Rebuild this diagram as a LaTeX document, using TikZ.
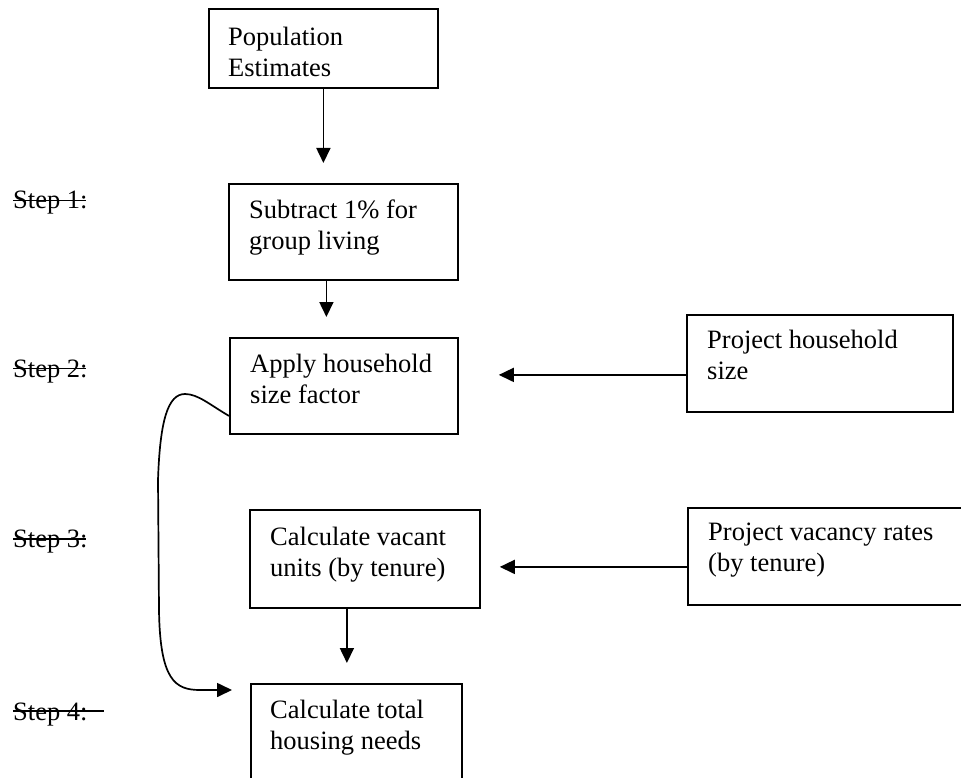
\documentclass[tikz,border=0pt]{standalone}
\usepackage{fontspec}
\setmainfont{Liberation Serif}
\usetikzlibrary{arrows.meta,calc}
\begin{document}
\begin{tikzpicture}[x=1pt,y=-1pt,
  box/.style={draw=black,line width=1.8pt,rectangle,inner sep=0pt,anchor=north west},
  txt/.style={anchor=north west,inner sep=0pt,align=left,font=\fontsize{26.5}{31}\selectfont},
  steplbl/.style={anchor=base west,inner sep=0pt,font=\fontsize{26.5}{31}\selectfont},
  arr/.style={line width=1.7pt,-{Triangle[length=15pt,width=14pt]}},
  strike/.style={line width=1.4pt}]
\useasboundingbox (0,0) rectangle (961,778);
\clip (0,0) rectangle (961,778);
% boxes
\node[box,minimum width=229pt,minimum height=79pt] (A) at (208,8) {};
\node[box,minimum width=229pt,minimum height=96pt] (B) at (228,183) {};
\node[box,minimum width=228pt,minimum height=96pt] (C) at (229,337) {};
\node[box,minimum width=230pt,minimum height=98pt] (D) at (249,509) {};
\node[box,minimum width=211pt,minimum height=110pt] (E) at (250,683) {};
\node[box,minimum width=266pt,minimum height=97pt] (F) at (686,314) {};
\node[box,minimum width=300pt,minimum height=97pt] (G) at (687,507) {};
% texts
\node[txt] (tA) at (228,24) {\strut Population\\Estimates};
\node[txt] (tB) at (249,197) {\strut Subtract 1\% for\\group living};
\node[txt] (tC) at (250,351) {\strut Apply household\\size factor};
\node[txt] (tD) at (270,524) {\strut Calculate vacant\\units (by tenure)};
\node[txt] (tE) at (270,697) {\strut Calculate total\\housing needs};
\node[txt] (tF) at (707,327) {\strut Project household\\size};
\node[txt] (tG) at (708,519) {\strut Project vacancy rates\\(by tenure)};
% step labels
\node[steplbl] (s1) at (13,209) {Step 1:};
\node[steplbl] (s2) at (13,377) {Step 2:};
\node[steplbl] (s3) at (13,547) {Step 3:};
\node[steplbl] (s4) at (13,720) {Step 4:};
\draw[strike] ([yshift=8.5pt]s1.base west) -- ([yshift=8.5pt,xshift=-2pt]s1.base east);
\draw[strike] ([yshift=8.5pt]s2.base west) -- ([yshift=8.5pt,xshift=-2pt]s2.base east);
\draw[strike] ([yshift=8pt]s3.base west) -- ([yshift=8pt,xshift=-2pt]s3.base east);
\draw[strike] ([yshift=9pt]s4.base west) -- ([yshift=9pt,xshift=16pt]s4.base east);
% connectors
\draw[arr,shorten >=20pt] (A.south) -- (A.south |- B.north);
\draw[arr,shorten >=20pt] ([xshift=-17pt]B.south) -- ([xshift=-17pt]B.south |- C.north);
\draw[arr,shorten >=40pt] ([yshift=-11.5pt]F.west) -- ([yshift=-11.5pt]F.west -| C.east);
\draw[arr,shorten >=19pt] ([yshift=-10.5pt]G.west) -- ([yshift=-10.5pt]G.west -| D.east);
\draw[arr,shorten >=20pt] ([xshift=-18pt]D.south) -- ([xshift=-18pt]D.south |- E.north);
\coordinate (cs) at ([yshift=-30pt]C.west);
\coordinate (ce) at ([yshift=-7pt]E.north west);
\draw[arr,shorten >=18pt] (cs) .. controls +(-19,-11) and (198,394) .. (185,394)
  .. controls (168,394) and (160,420) .. (158,480) -- (159,610)
  .. controls (160,680) and (175,690) .. (200,690) -- (ce);
\end{tikzpicture}
\end{document}
